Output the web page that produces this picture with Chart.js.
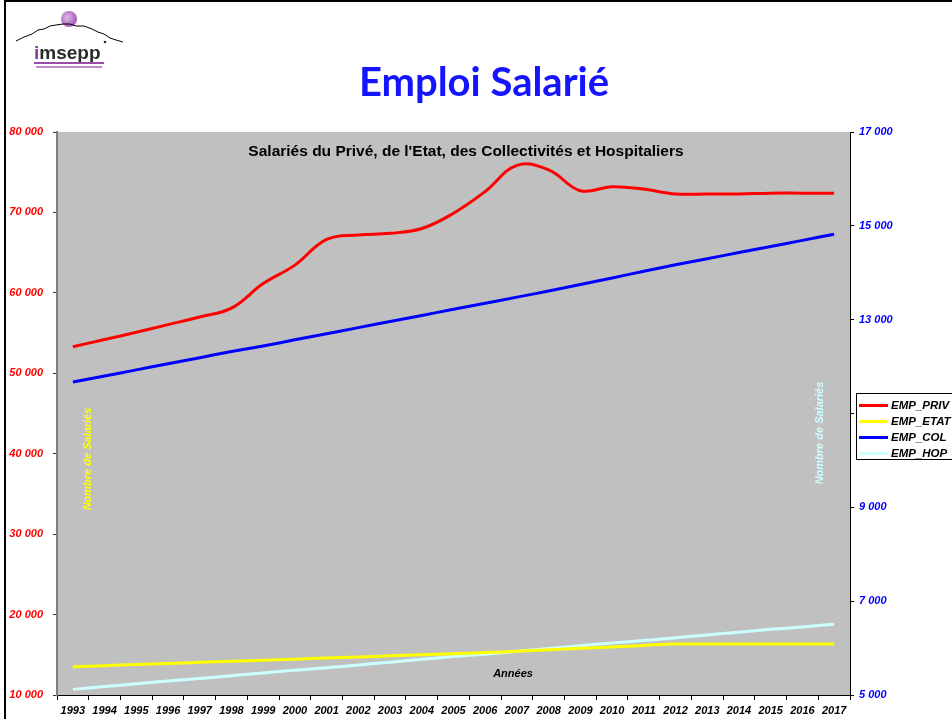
<!DOCTYPE html>
<html>
<head>
<meta charset="utf-8">
<script src="https://cdn.jsdelivr.net/npm/chart.js@4/dist/chart.umd.min.js"></script>
<style>
  html, body { margin:0; padding:0; background:#fff; }
  #wrap { position:relative; width:952px; height:719px; overflow:hidden; background:#fff; }
  #c { position:absolute; left:0; top:0; }
  #title { position:absolute; left:0; width:968px; top:61px; text-align:center;
           font-family:Lato, "Open Sans", sans-serif; font-weight:bold; font-size:40px; line-height:1; color:#1414ff; }
  #legend { position:absolute; left:856px; top:393px; width:110px; height:67px; background:#fff;
            border:1px solid #000; box-sizing:border-box; }
  .row { position:absolute; left:0; height:16px; display:flex; align-items:center; }
  .sw { width:29px; height:3px; margin-left:2px; margin-right:3px; }
  .lt { font-family:"Liberation Sans", Arial, sans-serif; font-weight:bold; font-style:italic; font-size:11.5px; color:#000; white-space:nowrap; }
  #bl { position:absolute; left:4px; top:0; width:2px; height:719px; background:#000; }
  #bt { position:absolute; left:4px; top:0; width:948px; height:2px; background:#000; }
</style>
</head>
<body>
<div id="wrap">
  <canvas id="c" width="952" height="719"></canvas>
  <div id="bl"></div><div id="bt"></div>
  <svg style="position:absolute;left:0;top:0" width="140" height="80">
    <defs>
      <radialGradient id="g" cx="40%" cy="40%" r="60%">
        <stop offset="0%" stop-color="#e0b8ea"/><stop offset="100%" stop-color="#a45cb8"/>
      </radialGradient>
    </defs>
    <circle cx="69" cy="19" r="8" fill="url(#g)"/>
    <polyline points="16,41 24,37 32,34 38,30 44,29 50,26 56,25 63,24 70,24 76,26 84,26 92,29 98,32 104,34 110,38 116,40 123,42"
              fill="none" stroke="#000" stroke-width="1"/>
    <text x="34" y="59" font-family="Liberation Sans, Arial, sans-serif" font-weight="bold" font-size="19" fill="#2a2a2a"><tspan fill="#8a3c9a">i</tspan>msepp</text>
    <circle cx="105" cy="42" r="1.3" fill="#2a2a2a"/>
    <rect x="34" y="62" width="70" height="2" fill="#9a4aa8"/>
    <rect x="36" y="66" width="66" height="2" fill="#c08ac8"/>
  </svg>
  <div id="title">Emploi Salarié</div>
  <div id="legend">
    <div class="row" style="top:3px"><div class="sw" style="background:#ff0000"></div><span class="lt">EMP_PRIV</span></div>
    <div class="row" style="top:19px"><div class="sw" style="background:#ffff00"></div><span class="lt">EMP_ETAT</span></div>
    <div class="row" style="top:35px"><div class="sw" style="background:#0000ff"></div><span class="lt">EMP_COL</span></div>
    <div class="row" style="top:51px"><div class="sw" style="background:#ccffff"></div><span class="lt">EMP_HOP</span></div>
  </div>
</div>
<script>
const years = ['1993','1994','1995','1996','1997','1998','1999','2000','2001','2002','2003','2004','2005',
               '2006','2007','2008','2009','2010','2011','2012','2013','2014','2015','2016','2017'];
const empPriv = [53300,54200,55100,56050,57000,58100,61150,63450,66650,67200,67400,68000,69900,
                 72600,75850,75300,72700,73200,72900,72300,72300,72300,72400,72400,72400];
const empEtat = [13520,13650,13790,13920,14060,14190,14330,14460,14600,14730,14870,15000,15130,
                 15270,15440,15620,15800,15980,16160,16340,16340,16340,16340,16340,16340];
const empCol = [11670,11800,11930,12060,12190,12320,12440,12570,12700,12830,12960,13090,13220,
                13350,13480,13610,13750,13890,14030,14170,14300,14430,14560,14690,14820];
const empHop = [5120,5180,5240,5300,5350,5410,5470,5530,5580,5640,5700,5760,5820,
                5870,5930,5990,6050,6110,6160,6220,6280,6340,6400,6450,6510];
const leftTicks = [10000,20000,30000,40000,50000,60000,70000,80000];
const rightTicks = [5000,7000,9000,11000,13000,15000,17000];

const fmt = v => String(v).replace(/\B(?=(\d{3})+(?!\d))/g, ' ');
const tickFont = { family:'"Liberation Sans", Arial, sans-serif', size:11, weight:'bold', style:'italic' };

const inPlot = {
  id:'inPlot',
  beforeDraw(chart) {
    const {ctx, chartArea:a} = chart;
    ctx.save();
    ctx.fillStyle = '#c0c0c0';
    ctx.fillRect(a.left, a.top, a.right - a.left, a.bottom - a.top);
    ctx.restore();
  },
  beforeDatasetsDraw(chart) {
    const {ctx} = chart;
    ctx.save();
    ctx.fillStyle = '#000';
    ctx.textAlign = 'center';
    ctx.textBaseline = 'middle';
    ctx.font = 'bold 15.5px "Liberation Sans", Arial, sans-serif';
    ctx.fillText("Salariés du Privé, de l'Etat, des Collectivités et Hospitaliers", 466, 152);
    ctx.font = 'bold italic 11px "Liberation Sans", Arial, sans-serif';
    ctx.fillText('Années', 513, 674);
    ctx.font = 'bold italic 11px "Liberation Sans", Arial, sans-serif';
    ctx.save();
    ctx.translate(88, 459); ctx.rotate(-Math.PI/2);
    ctx.fillStyle = '#ffff00';
    ctx.fillText('Nombre de Salariés', 0, 0);
    ctx.restore();
    ctx.save();
    ctx.translate(820, 433); ctx.rotate(-Math.PI/2);
    ctx.fillStyle = '#ccffff';
    ctx.fillText('Nombre de Salariés', 0, 0);
    ctx.restore();
    ctx.restore();
  }
};

new Chart(document.getElementById('c'), {
  type:'line',
  data:{
    labels: years,
    datasets:[
      { label:'EMP_PRIV', data:empPriv, yAxisID:'yL', borderColor:'#ff0000', borderWidth:3, tension:0.4, pointRadius:0 },
      { label:'EMP_ETAT', data:empEtat, yAxisID:'yL', borderColor:'#ffff00', borderWidth:3, tension:0.4, pointRadius:0 },
      { label:'EMP_COL', data:empCol, yAxisID:'yR', borderColor:'#0000ff', borderWidth:3, tension:0.4, pointRadius:0 },
      { label:'EMP_HOP', data:empHop, yAxisID:'yR', borderColor:'#ccffff', borderWidth:3, tension:0.4, pointRadius:0 }
    ]
  },
  options:{
    responsive:false, animation:false, devicePixelRatio:1,
    layout:{ padding:{ top:132, left:0, right:0, bottom:0 } },
    plugins:{ legend:{display:false}, tooltip:{enabled:false}, title:{display:false} },
    scales:{
      x:{
        type:'category', offset:true,
        grid:{ display:true, drawOnChartArea:false, offset:true, color:'#000', tickLength:5 },
        border:{ color:'#000', width:1 },
        ticks:{ color:'#000', font:tickFont, maxRotation:0, autoSkip:false, padding:4 },
        afterFit(s){ s.height = 24; }
      },
      yL:{
        position:'left', min:10000, max:80000,
        afterBuildTicks(s){ s.ticks = leftTicks.map(v => ({value:v})); },
        grid:{ drawOnChartArea:false, color:'#333', tickLength:4 },
        border:{ color:'#808080', width:2 },
        ticks:{ color:'#ff0000', font:tickFont, padding:10, callback:v => fmt(v) },
        afterFit(s){ s.width = 57; }
      },
      yR:{
        position:'right', min:5000, max:17000,
        afterBuildTicks(s){ s.ticks = rightTicks.map(v => ({value:v})); },
        grid:{ drawOnChartArea:false, color:'#000', tickLength:4 },
        border:{ color:'#000', width:1 },
        ticks:{ color:'#0000ff', font:tickFont, padding:5, callback:v => fmt(v) },
        afterFit(s){ s.width = 102; }
      }
    }
  },
  plugins:[inPlot]
});
</script>
</body>
</html>
